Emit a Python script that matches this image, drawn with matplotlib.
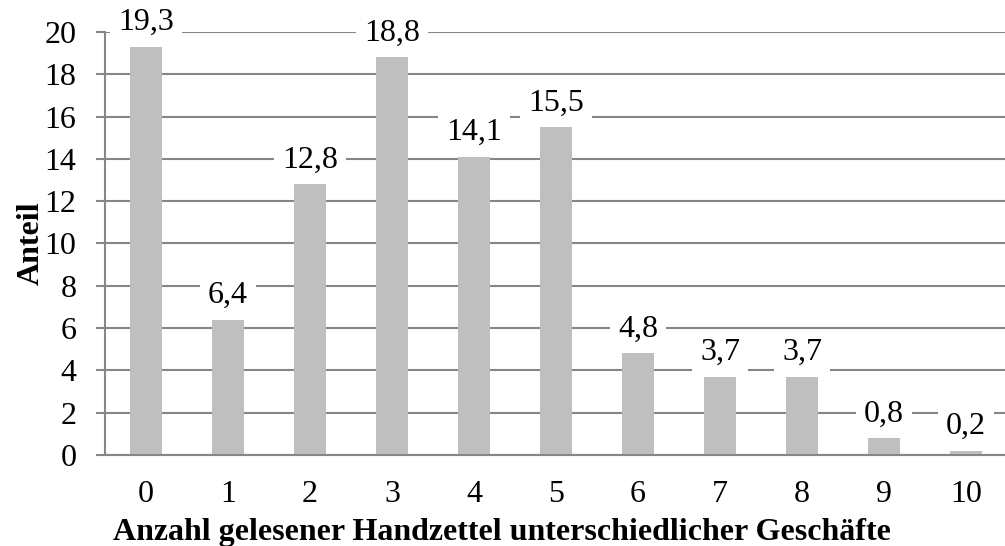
import matplotlib
matplotlib.use('Agg')
import matplotlib.pyplot as plt
import numpy as np

# Anteil je Anzahl gelesener Handzettel
categories = ['0', '1', '2', '3', '4', '5', '6', '7', '8', '9', '10']
shares = [19.3, 6.4, 12.8, 18.8, 14.1, 15.5, 4.8, 3.7, 3.7, 0.8, 0.2]
yticks = [0, 2, 4, 6, 8, 10, 12, 14, 16, 18, 20]

plt.rcParams['font.family'] = ['Liberation Serif', 'DejaVu Serif']

W, H = 1005, 546
fig = plt.figure(figsize=(W / 100, H / 100), dpi=100)
ax = fig.add_axes([105 / W, 1 - 455 / H, 902 / W, 423 / H])

grid_col = '#868686'
fs = 23
x = np.arange(len(categories))
ax.bar(x, shares, width=0.4, color='#bfbfbf', zorder=2)

ax.set_xlim(-0.5, len(categories) - 0.5)
ax.set_ylim(0, 20)
ax.set_yticks(yticks)
ax.set_yticklabels([str(t) for t in yticks], fontsize=fs)
ax.set_xticks(x)
ax.set_xticklabels(categories, fontsize=fs)

ax.yaxis.grid(True, color=grid_col, linewidth=1.5, zorder=0)
ax.set_axisbelow(True)

for s in ['top', 'right']:
    ax.spines[s].set_visible(False)
for s in ['left', 'bottom']:
    ax.spines[s].set_color(grid_col)
    ax.spines[s].set_linewidth(1.5)

ax.tick_params(axis='y', direction='out', length=6.5, width=1.5, color=grid_col, pad=14)
ax.tick_params(axis='x', length=0, pad=18)

# Datenbeschriftungen
for xi, v in zip(x, shares):
    ax.annotate('{:.1f}'.format(v).replace('.', ','), xy=(xi, v), xytext=(0, 12),
                textcoords='offset points', ha='center', va='baseline', fontsize=fs,
                bbox=dict(boxstyle='square,pad=0.25', fc='white', ec='none'), zorder=3)

ax.set_xlabel('Anzahl gelesener Handzettel unterschiedlicher Geschäfte',
              fontsize=fs, fontweight='bold')
ax.xaxis.set_label_coords(0.44, -0.15)
ax.set_ylabel('Anteil', fontsize=fs, fontweight='bold')
ax.yaxis.set_label_coords(-0.066, 0.5)

fig.savefig('out.png', dpi=100)
plt.close()
